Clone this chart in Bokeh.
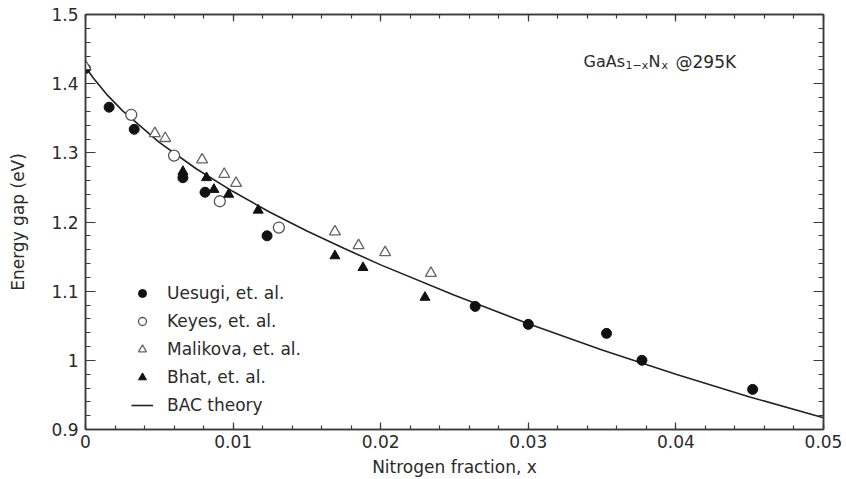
from bokeh.plotting import figure
from bokeh.models import (Range1d, Legend, LegendItem, LinearAxis, FixedTicker,
                          CustomJSTickFormatter, Label)
from bokeh.embed import file_html
from bokeh.resources import INLINE

# ---- data ----
uesugi_x = [0.0, 0.0016, 0.0033, 0.0066, 0.0081, 0.0123, 0.0264, 0.0300, 0.0353, 0.0377, 0.0452]
uesugi_y = [1.422, 1.366, 1.334, 1.264, 1.243, 1.180, 1.078, 1.052, 1.039, 1.000, 0.958]

keyes_x = [0.0031, 0.0060, 0.0091, 0.0131]
keyes_y = [1.355, 1.296, 1.230, 1.192]

malikova_x = [0.0, 0.0047, 0.0054, 0.0079, 0.0094, 0.0102, 0.0169, 0.0185, 0.0203, 0.0234]
malikova_y = [1.425, 1.328, 1.321, 1.290, 1.269, 1.256, 1.186, 1.166, 1.156, 1.126]

bhat_x = [0.0066, 0.0082, 0.0087, 0.0097, 0.0117, 0.0169, 0.0188, 0.0230]
bhat_y = [1.273, 1.264, 1.247, 1.240, 1.217, 1.151, 1.134, 1.091]

bac_x = [0.0, 0.0005, 0.001, 0.0015, 0.0025, 0.005, 0.0075, 0.01, 0.0125, 0.015,
         0.0175, 0.02, 0.025, 0.03, 0.035, 0.04, 0.045, 0.05]
bac_y = [1.424, 1.409, 1.396, 1.383, 1.361, 1.315, 1.277, 1.244, 1.214, 1.187,
         1.162, 1.138, 1.094, 1.053, 1.015, 0.980, 0.947, 0.917]

x_ticks = [0.0, 0.01, 0.02, 0.03, 0.04, 0.05]
x_tick_labels = ["0", "0.01", "0.02", "0.03", "0.04", "0.05"]
y_ticks = [0.9, 1.0, 1.1, 1.2, 1.3, 1.4, 1.5]
y_tick_labels = ["0.9", "1", "1.1", "1.2", "1.3", "1.4", "1.5"]

series_names = ["Uesugi, et. al.", "Keyes, et. al.", "Malikova, et. al.", "Bhat, et. al.", "BAC theory"]

FONT = "DejaVu Sans"
TXT = "#2a2a2a"
AX = "#3a3a3a"

p = figure(width=846, height=479, x_range=Range1d(0, 0.05), y_range=Range1d(0.9, 1.5),
           output_backend="svg", toolbar_location=None,
           min_border_left=85, min_border_right=23, min_border_top=14, min_border_bottom=50)
p.background_fill_color = "white"
p.border_fill_color = "white"
p.xgrid.visible = False
p.ygrid.visible = False
p.outline_line_color = AX
p.outline_line_width = 1.5

x_minor = [round(i * 0.002, 4) for i in range(26)]
y_minor = [round(0.9 + i * 0.02, 4) for i in range(31)]
xt = FixedTicker(ticks=x_ticks, minor_ticks=x_minor)
yt = FixedTicker(ticks=y_ticks, minor_ticks=y_minor)
fmt = CustomJSTickFormatter(code="return Number(tick.toFixed(4)).toString();")
blank = CustomJSTickFormatter(code="return '';")


def style_axis(ax, major_in, minor_in, show_labels):
    ax.axis_line_color = AX
    ax.axis_line_width = 1.5
    ax.major_tick_line_color = AX
    ax.minor_tick_line_color = AX
    ax.major_tick_line_width = 1.2
    ax.minor_tick_line_width = 1.2
    ax.major_tick_in = major_in
    ax.major_tick_out = 0
    ax.minor_tick_in = minor_in
    ax.minor_tick_out = 0
    if show_labels:
        ax.major_label_text_font = FONT
        ax.major_label_text_font_size = "17px"
        ax.major_label_text_color = TXT
        ax.axis_label_text_font = FONT
        ax.axis_label_text_font_size = "17px"
        ax.axis_label_text_font_style = "normal"
        ax.axis_label_text_color = TXT
    else:
        ax.major_label_standoff = 0


xa = p.xaxis[0]
xa.ticker = xt
xa.formatter = fmt
xa.major_label_overrides = dict(zip(x_ticks, x_tick_labels))
xa.axis_label = "Nitrogen fraction, x"
style_axis(xa, 7, 4, True)
xa.major_label_standoff = 5
xa.axis_label_standoff = 6

ya = p.yaxis[0]
ya.ticker = yt
ya.formatter = fmt
ya.major_label_overrides = dict(zip(y_ticks, y_tick_labels))
ya.axis_label = "Energy gap (eV)"
style_axis(ya, 10, 5, True)
ya.major_label_standoff = 7
ya.axis_label_standoff = 20

top = LinearAxis(ticker=xt, formatter=blank)
style_axis(top, 7, 4, False)
p.add_layout(top, "above")
right = LinearAxis(ticker=yt, formatter=blank)
style_axis(right, 10, 5, False)
p.add_layout(right, "right")

r_line = p.line(bac_x, bac_y, line_color="#222222", line_width=1.6)
r_u = p.scatter(uesugi_x, uesugi_y, marker="circle", size=10, fill_color="#111111", line_color="#111111")
r_k = p.scatter(keyes_x, keyes_y, marker="circle", size=11, fill_color="white", line_color="#555555", line_width=1.3)
r_m = p.scatter(malikova_x, malikova_y, marker="triangle", size=11, fill_color="white", line_color="#666666", line_width=1.3)
r_b = p.scatter(bhat_x, bhat_y, marker="triangle", size=10, fill_color="#111111", line_color="#111111")

legend = Legend(items=[
    LegendItem(label=series_names[0], renderers=[r_u]),
    LegendItem(label=series_names[1], renderers=[r_k]),
    LegendItem(label=series_names[2], renderers=[r_m]),
    LegendItem(label=series_names[3], renderers=[r_b]),
    LegendItem(label=series_names[4], renderers=[r_line]),
], location=(46, 14))
legend.padding = 0
legend.margin = 0
legend.border_line_color = None
legend.background_fill_alpha = 0
legend.glyph_width = 22
legend.glyph_height = 20
legend.label_height = 20
legend.spacing = 8
legend.label_standoff = 14
legend.label_text_font = FONT
legend.label_text_font_size = "17px"
legend.label_text_color = TXT
p.add_layout(legend, "center")

# annotation: GaAs(1-x)N(x) @295K, pieces placed from the top-left corner of the frame
ann = [
    ("GaAs", 498, -47, "16px"),
    ("1\u2212x", 540, -51, "11px"),
    ("N", 563, -47, "16px"),
    ("x", 576, -51, "11px"),
    ("@295K", 590, -47, "17px"),
]
for txt, dx, dy, fs in ann:
    p.add_layout(Label(x=0, y=1.5, x_offset=dx, y_offset=dy, text=txt,
                       text_font=FONT, text_font_size=fs, text_color=TXT,
                       text_baseline="alphabetic", text_align="left"))

open("out.html", "w").write(file_html(p, INLINE))
